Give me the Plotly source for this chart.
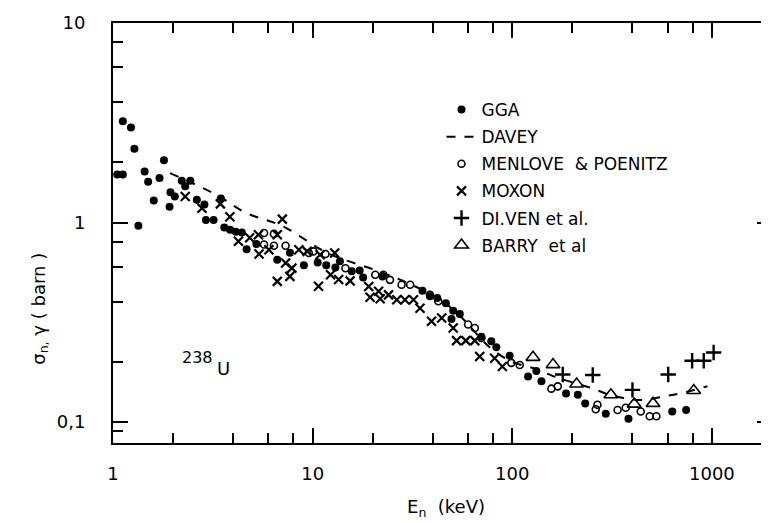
import plotly.graph_objects as go

# ---------------- data (E_n in keV, sigma in barn) ----------------
gga_x = [1.05, 1.12, 1.12, 1.23, 1.28, 1.34, 1.44, 1.50, 1.60, 1.71, 1.80, 1.92, 1.94, 2.04,
         2.21, 2.30, 2.44, 2.63, 2.87, 2.92, 3.19, 3.47, 3.61, 3.86, 4.12, 4.42, 4.67, 5.23,
         6.65, 7.7, 9.04, 10.6, 11.7, 13.0, 13.7, 15.7, 17.2, 17.9,
         22.4, 35.5, 38.7, 42.1, 46.5, 49.6, 50.6, 54.6, 70, 78.5, 83.2, 97, 120, 132, 140,
         186, 213, 232, 294, 382, 633, 743]
gga_y = [1.74, 1.74, 3.22, 2.99, 2.34, 0.964, 1.80, 1.60, 1.29, 1.67, 2.05, 1.20, 1.42, 1.35,
         1.62, 1.52, 1.62, 1.30, 1.23, 1.03, 1.03, 1.32, 0.945, 0.92, 0.90, 0.89, 0.735, 0.78,
         0.65, 0.706, 0.61, 0.63, 0.61, 0.595, 0.64, 0.57, 0.575, 0.53,
         0.537, 0.455, 0.427, 0.419, 0.394, 0.328, 0.361, 0.348, 0.268, 0.254, 0.237, 0.215,
         0.169, 0.18, 0.160, 0.139, 0.137, 0.124, 0.110, 0.104, 0.113, 0.115]

davey_x = [1.93, 3.28, 4.62, 7.05, 12.0, 21.4, 31, 40, 50, 60, 70, 80, 100, 130, 160,
           200, 250, 300, 360, 450, 590, 710, 950]
davey_y = [1.77, 1.38, 1.12, 0.96, 0.70, 0.57, 0.49, 0.43, 0.37, 0.31, 0.26, 0.23, 0.20,
           0.185, 0.17, 0.158, 0.148, 0.138, 0.132, 0.129, 0.135, 0.140, 0.151]

menlove_x = [5.71, 6.40, 5.71, 6.40, 7.32, 9.57, 10.1, 11.6, 14.6, 20.6, 22.6, 24.4, 27.9,
             30.8, 38.7, 42.6, 60.1, 64.9, 70, 98.9, 109, 157, 169, 262, 267, 337, 370,
             440, 488, 527]
menlove_y = [0.886, 0.877, 0.776, 0.765, 0.765, 0.703, 0.717, 0.695, 0.59, 0.547, 0.547,
             0.516, 0.488, 0.488, 0.434, 0.403, 0.308, 0.296, 0.264, 0.198, 0.193, 0.147,
             0.151, 0.116, 0.122, 0.115, 0.118, 0.113, 0.107, 0.107]

moxon_x = [2.30, 2.79, 3.45, 3.85, 7.05, 4.25, 4.84, 5.35, 5.39, 6.04, 6.65, 6.65, 7.32,
           7.69, 7.87, 8.53, 9.39, 10.7, 10.9, 12.3, 12.9, 13.5, 15.4, 19.1, 19.4, 21.4,
           21.8, 24.0, 26.4, 29.0, 32.0, 34.5, 39.4, 44.3, 50.6, 52.6, 58.5, 64.9, 68.7,
           81.6, 89.2]
moxon_y = [1.35, 1.18, 1.24, 1.07, 1.04, 0.805, 0.838, 0.869, 0.695, 0.731, 0.869, 0.507,
           0.627, 0.537, 0.591, 0.731, 0.717, 0.479, 0.689, 0.547, 0.703, 0.518, 0.51,
           0.478, 0.422, 0.452, 0.415, 0.434, 0.41, 0.41, 0.41, 0.372, 0.320, 0.332,
           0.296, 0.256, 0.256, 0.256, 0.213, 0.209, 0.190]

diven_x = [179, 253, 400, 604, 796, 910, 1020]
diven_y = [0.173, 0.172, 0.145, 0.173, 0.203, 0.203, 0.223]

barry_x = [127, 160, 210, 312, 408, 507, 811]
barry_y = [0.211, 0.194, 0.155, 0.137, 0.123, 0.124, 0.144]

x_tickvals = [1, 10, 100, 1000]
x_ticktext = ["1", "10", "100", "1000"]
x_minor = [2, 4, 6, 8, 20, 40, 60, 80, 200, 400, 600, 800]
y_tickvals = [0.1, 1, 10]
y_ticktext = ["0,1", "1", "10"]
y_minor = [0.09, 0.2, 0.4, 0.6, 0.8, 2, 4, 6, 8]

# ---------------- figure ----------------
FONT = "DejaVu Sans"
fig = go.Figure()

fig.add_trace(go.Scatter(x=gga_x, y=gga_y, mode="markers", name="GGA", legendgroup="a",
                         marker=dict(symbol="circle", size=8, color="black")))
fig.add_trace(go.Scatter(x=davey_x, y=davey_y, mode="lines", name="DAVEY", legendgroup="b",
                         line=dict(color="black", width=2, dash="dash", shape="spline")))
fig.add_trace(go.Scatter(x=menlove_x, y=menlove_y, mode="markers", name="MENLOVE\u00a0\u00a0& POENITZ",
                         legendgroup="c",
                         marker=dict(symbol="circle-open", size=7, color="black", line=dict(width=1.6))))
fig.add_trace(go.Scatter(x=moxon_x, y=moxon_y, mode="markers", name="MOXON", legendgroup="d",
                         marker=dict(symbol="x-thin", size=9, color="black", line=dict(width=2.2, color="black"))))
fig.add_trace(go.Scatter(x=diven_x, y=diven_y, mode="markers", name="DI.VEN et al.", legendgroup="e",
                         marker=dict(symbol="cross-thin", size=11, color="black", line=dict(width=2.4, color="black"))))
fig.add_trace(go.Scatter(x=barry_x, y=barry_y, mode="markers", name="BARRY\u00a0 et al", legendgroup="f",
                         marker=dict(symbol="triangle-up-open", size=12, color="black", line=dict(width=1.6))))

axis_common = dict(
    type="log", showgrid=False, zeroline=False,
    showline=True, linecolor="black", linewidth=2, mirror="ticks",
    ticks="inside", ticklen=15, tickwidth=1.6, tickcolor="black",
    tickfont=dict(family=FONT, size=18, color="black"),
)

fig.update_xaxes(**axis_common, range=[0, 3.301], tickvals=x_tickvals, ticktext=x_ticktext,
                 ticklabelstandoff=13,
                 minor=dict(tickvals=x_minor, ticks="inside", ticklen=10, tickwidth=1.6, tickcolor="black"))
fig.update_yaxes(**axis_common, range=[-1.105, 1.0], tickvals=y_tickvals, ticktext=y_ticktext,
                 ticklabelstandoff=22,
                 minor=dict(tickvals=y_minor, ticks="inside", ticklen=10, tickwidth=1.6, tickcolor="black"))

fig.add_annotation(text="E<sub>n</sub>\u00a0\u00a0(keV)", xref="paper", yref="paper", x=0.505, y=-0.155,
                   showarrow=False, font=dict(family=FONT, size=18, color="black"),
                   xanchor="center", yanchor="middle")
fig.add_annotation(text="σ<sub>n,</sub> γ ( barn )", xref="paper", yref="paper", x=-0.112, y=0.32,
                   textangle=-90, showarrow=False, font=dict(family=FONT, size=18, color="black"),
                   xanchor="center", yanchor="middle")
fig.add_annotation(text="238", xref="paper", yref="paper", x=(189.5 - 105) / 662, y=(435 - 349) / 420,
                   showarrow=False, font=dict(family=FONT, size=16, color="black"),
                   xanchor="center", yanchor="middle")
fig.add_annotation(text="U", xref="paper", yref="paper", x=(216.5 - 105) / 662, y=(435 - 360) / 420,
                   showarrow=False, font=dict(family=FONT, size=18, color="black"),
                   xanchor="center", yanchor="middle")

fig.update_layout(
    width=769, height=523,
    margin=dict(l=105, r=3, t=15, b=88),
    paper_bgcolor="white", plot_bgcolor="white",
    font=dict(family=FONT, color="black"),
    legend=dict(x=(435 - 105) / 662, y=(435 - 84) / 420, xanchor="left", yanchor="top",
                font=dict(family=FONT, size=17, color="black"),
                bgcolor="rgba(0,0,0,0)", tracegroupgap=2, itemwidth=30),
)

fig.write_html("out.html")
